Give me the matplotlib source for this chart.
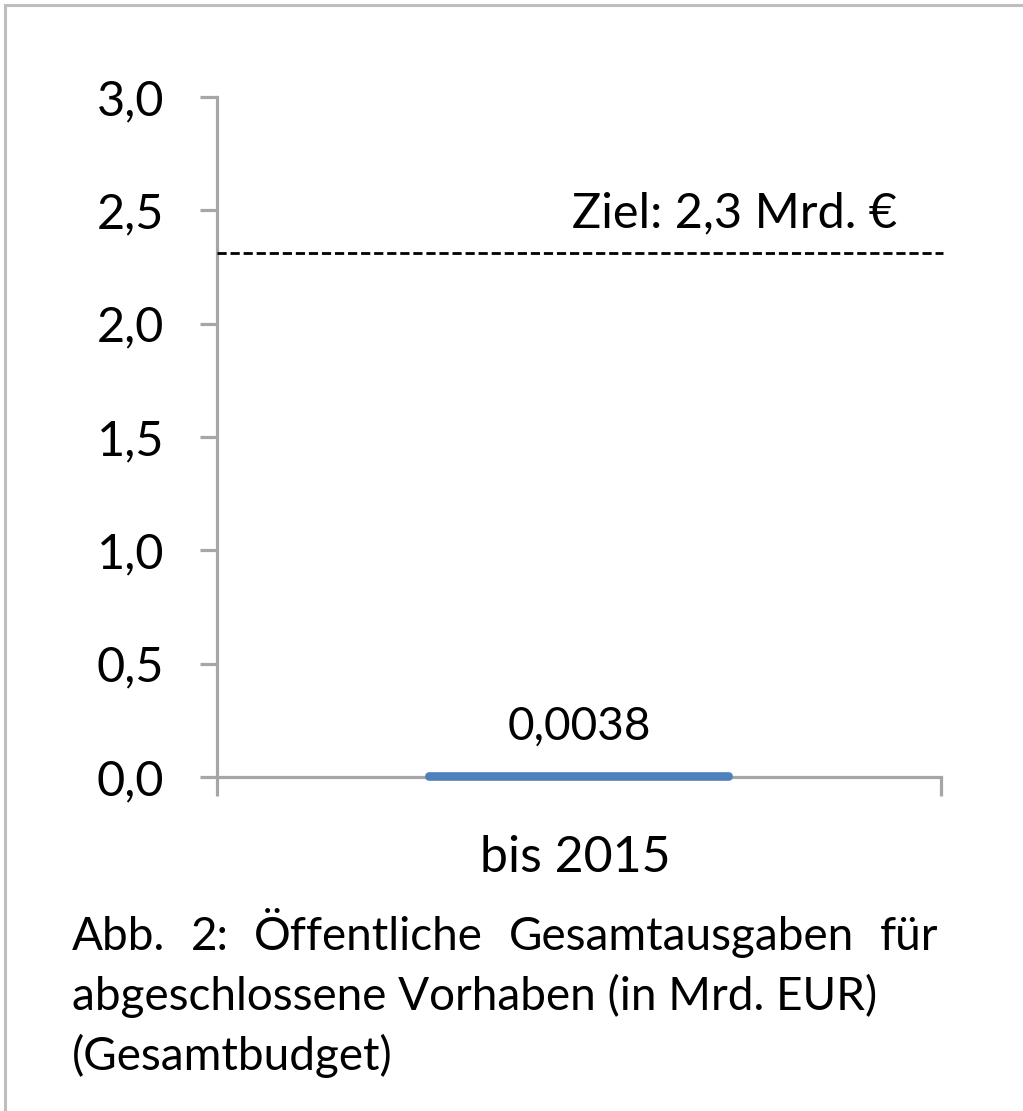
import matplotlib
matplotlib.use("Agg")
import matplotlib.pyplot as plt
from matplotlib.ticker import FuncFormatter, FixedLocator
from matplotlib.lines import Line2D

plt.rcParams['font.family'] = ['Lato', 'DejaVu Sans']

# ---- data ----
categories = ["bis 2015"]
values = [0.0038]
value_labels = ["0,0038"]
target_value = 2.31
target_label = "Ziel: 2,3 Mrd. €"
y_ticks = [0.0, 0.5, 1.0, 1.5, 2.0, 2.5, 3.0]
caption_line1 = ["Abb.", "2:", "Öffentliche", "Gesamtausgaben", "für"]
caption_line2 = "abgeschlossene Vorhaben (in Mrd. EUR)"
caption_line3 = "(Gesamtbudget)"

W, H = 1023, 1111
DPI = 100
fig = plt.figure(figsize=(W / DPI, H / DPI), dpi=DPI)
fig.patch.set_facecolor("white")

def px_x(x):
    return x / W

def px_y(y):
    return 1 - y / H

# outer border (top and left only visible)
grey_border = "#BEBEBE"
fig.add_artist(Line2D([px_x(5), 1.0], [px_y(5), px_y(5)], color=grey_border, lw=2.2,
                      transform=fig.transFigure))
fig.add_artist(Line2D([px_x(5), px_x(5)], [px_y(5), 0.0], color=grey_border, lw=2.2,
                      transform=fig.transFigure))

left, right, bottom, top = 217, 941, 777, 97
ax = fig.add_axes([px_x(left), px_y(bottom), px_x(right) - px_x(left), px_y(top) - px_y(bottom)])
ax.set_xlim(-0.5, 0.5)
ax.set_ylim(0, 3.0)

axis_grey = "#A6A6A6"
for s in ["top", "right"]:
    ax.spines[s].set_visible(False)
for s in ["left", "bottom"]:
    ax.spines[s].set_color(axis_grey)
    ax.spines[s].set_linewidth(2.3)

tick_size = 35
num_size = 33
cat_size = 36
ziel_size = 35
cap_size = 33

ax.yaxis.set_major_locator(FixedLocator(y_ticks))
ax.yaxis.set_major_formatter(FuncFormatter(lambda v, p: f"{v:.1f}".replace(".", ",")))
ax.tick_params(axis="y", direction="out", length=12, width=2.3, color=axis_grey,
               labelsize=tick_size, pad=26)
# x ticks only at the category boundaries
ax.xaxis.set_major_locator(FixedLocator([-0.5, 0.5]))
ax.tick_params(axis="x", direction="out", length=14, width=2.3, color=axis_grey,
               labelbottom=False)

xpos = list(range(len(categories)))
bars = ax.bar(xpos, values, width=0.414, color="#4F81BD", edgecolor="#4F81BD",
              linewidth=5.5, joinstyle="round", zorder=5, clip_on=False)

for x, v, lab in zip(xpos, values, value_labels):
    ax.annotate(lab, xy=(x, v), xytext=(0, 37 / 1.389 - 0.5), textcoords="offset points",
                ha="center", va="baseline", fontsize=num_size, color="black")

for x, c in zip(xpos, categories):
    ax.annotate(c, xy=(x, 0), xycoords=("data", "axes fraction"),
                xytext=(-3, -95 / 1.389), textcoords="offset points",
                ha="center", va="baseline", fontsize=cat_size, color="black")

ax.axhline(target_value, xmin=0, xmax=1.003, color="black", lw=2.0,
           linestyle=(0, (3.3, 1.4)), clip_on=False, zorder=4)
ax.text(0.939, target_value + 0.116, target_label, transform=ax.get_yaxis_transform(),
        ha="right", va="baseline", fontsize=ziel_size, color="black")

# caption (first line justified)
fig.canvas.draw()
renderer = fig.canvas.get_renderer()
x0, x1 = 72, 938
texts = [fig.text(px_x(x0), px_y(950), w, fontsize=cap_size, ha="left", va="baseline")
         for w in caption_line1]
widths = [t.get_window_extent(renderer).width for t in texts]
gap = (x1 - x0 - sum(widths)) / (len(texts) - 1)
cur = x0
for t, w in zip(texts, widths):
    t.set_x(px_x(cur))
    cur += w + gap
fig.text(px_x(x0), px_y(1010), caption_line2, fontsize=cap_size, ha="left", va="baseline")
fig.text(px_x(x0), px_y(1070), caption_line3, fontsize=cap_size, ha="left", va="baseline")

fig.savefig("out.png", dpi=DPI, facecolor="white")
